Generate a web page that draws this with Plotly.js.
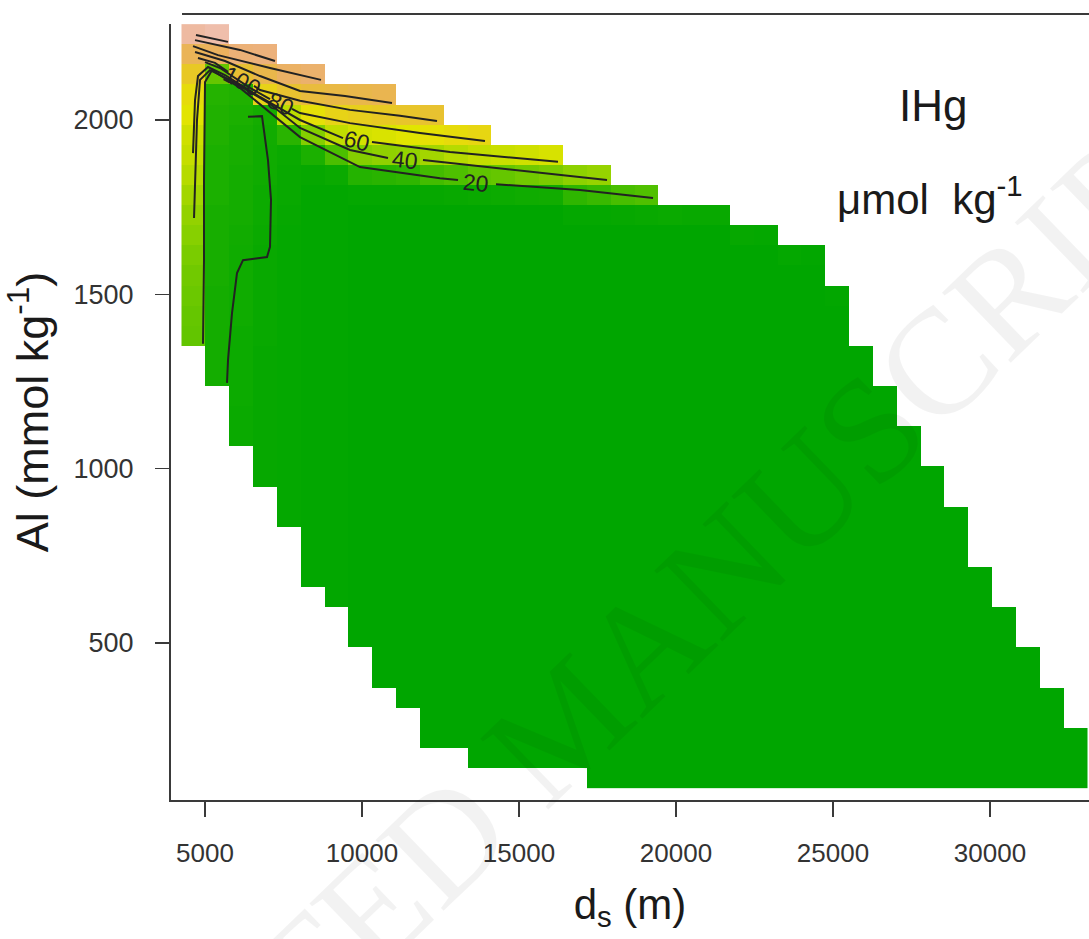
<!DOCTYPE html>
<html>
<head>
<meta charset="utf-8">
<script src="https://cdn.plot.ly/plotly-3.0.1.min.js"></script>
<style>html,body{margin:0;padding:0;background:#fff}#chart{width:1089px;height:939px}</style>
</head>
<body>
<div id="chart"></div>
<script>
// ---- grid (cell centres) ----
const xCenters = [4631,5390,6150,6909,7669,8428,9188,9948,10707,11467,12226,12986,13745,14505,15264,16024,16783,17543,18303,19062,19822,20581,21341,22100,22860,23619,24379,25139,25898,26658,27417,28177,28936,29696,30455,31215,31974,32734];
const yCenters = [112.9,170.6,228.2,285.9,343.5,401.2,458.8,516.5,574.1,631.8,689.4,747.1,804.7,862.4,920.0,977.7,1035.3,1093.0,1150.6,1208.3,1265.9,1323.6,1381.2,1438.9,1496.5,1554.2,1611.8,1669.5,1727.1,1784.8,1842.4,1900.1,1957.7,2015.4,2073.0,2130.7,2188.3,2246.0];

// valid rows in each column (row index into yCenters)
const colBottomRow = [22,20,17,15,13,10,9,7,5,4,2,2,1,1,1,1,1,0,0,0,0,0,0,0,0,0,0,0,0,0,0,0,0,0,0,0,0,0];
const colTopRow    = [37,37,36,36,35,35,34,34,34,33,33,32,32,31,31,31,30,30,29,29,28,28,28,27,27,26,26,24,21,19,17,15,13,10,8,6,4,2];

// IHg values (umol/kg) read from top cell of each column downward
const colTopValues = [
  [182,135,100,84,76,66,61,56,50,45,41,37,34,32,30,29],
  [188,140,30,13,12,12,11,11,11,10,10,10,10,9,9,9,9,9],
  [157,110,12,11,10,10,9,9,9,8,7,7,7,7,6,6,6,6,5,5],
  [160,127,92,9,8,7,7,6,6,5,4,4,4,4,4,3,3,3,3,3,3,3],
  [144,108,58,14,5,4,4,3],
  [150,117,81,40,11,3],
  [123,91,59,21,5],
  [127,95,68,40,13,2],
  [130,99,71,44,14,2],
  [104,75,45,15,2],
  [108,80,50,19,3],
  [84,56,22,4],
  [88,60,28,5],
  [63,30,6],
  [66,34,7],
  [70,37,8],
  [43,15,2],
  [46,17,2],
  [20,3],
  [23,4],
  [5],[4],[4],[3],[2],[2],[1],[1],
  [],[],[],[],[],[],[],[],[],[]
];
const colBaseValue = [29,9,5,3,2,1,1,0,0,0,0,0,0,0,0,0,0,0,0,0,0,0,0,0,0,0,0,0,0,0,0,0,0,0,0,0,0,0];

// contour lines (d_s, Al)
const c180x = [4713,5732];
const c180y = [2244,2224];
const c160x = [4682,6115,7229];
const c160y = [2229,2201,2169];
const c140x = [4618,5414,7070,8694];
const c140y = [2212,2186,2149,2115];
const c120x = [4682,5637,6752,8026,9459,10955];
const c120y = [2195,2169,2126,2083,2069,2049];
const c100x = [4777,5318,5732,null,6560,6752,8026,9618,11210,12389];
const c100y = [2178,2164,2138,null,2098,2086,2055,2029,2012,1997];
const c80x = [5000,5478,6433,7070,null,7771,8026,9618,11847,13917];
const c80y = [2166,2149,2092,2060,null,2032,2020,1991,1963,1940];
const c60x = [4618,4650,4682,4777,5096,5637,6752,8026,9395,null,10318,12803,16242];
const c60y = [1905,2000,2057,2126,2152,2129,2066,2000,1948,null,1937,1908,1880];
const c40x = [4650,4713,4745,4841,5159,5796,7070,8026,9618,10828,null,11943,14395,17803];
const c40y = [1719,1885,2000,2115,2143,2115,2046,1977,1914,1891,null,1885,1862,1828];
const c20x = [4936,4968,4968,5000,5223,6115,8026,9936,12484,13058,null,14267,16943,19268];
const c20y = [1358,1598,1828,2109,2143,2092,1951,1865,1833,1828,null,1816,1799,1776];
const cInnerX = [6369,6815,7006,7102,7070,6975,6210,6019,5860,5733,5701];
const cInnerY = [2009,2011,1885,1771,1636,1607,1598,1561,1446,1312,1246];

const contourLabels = ['100','80','60','40','20'];
const labelX = [6169,7420,9841,11369,13630];
const labelY = [2112,2046,1940,1885,1819];
const labelAngle = [28,24,14,6,5];

const xTickVals = [5000,10000,15000,20000,25000,30000];
const xTickText = ['5000','10000','15000','20000','25000','30000'];
const yTickVals = [500,1000,1500,2000];
const yTickText = ['500','1000','1500','2000'];

// ---- build z matrix ----
const z = yCenters.map((_, j) => xCenters.map((__, i) => {
  if (j < colBottomRow[i] || j > colTopRow[i]) return null;
  const k = colTopRow[i] - j;
  const prof = colTopValues[i];
  return k < prof.length ? prof[k] : colBaseValue[i];
}));

// ---- terrain.colors style scale ----
function hsv2rgb(h, s, v) {
  const i = Math.floor(h * 6), f = h * 6 - i;
  const p = v * (1 - s), q = v * (1 - f * s), t = v * (1 - (1 - f) * s);
  let r, g, b;
  switch (((i % 6) + 6) % 6) {
    case 0: r = v; g = t; b = p; break;
    case 1: r = q; g = v; b = p; break;
    case 2: r = p; g = v; b = t; break;
    case 3: r = p; g = q; b = v; break;
    case 4: r = t; g = p; b = v; break;
    default: r = v; g = p; b = q;
  }
  return 'rgb(' + Math.round(r * 255) + ',' + Math.round(g * 255) + ',' + Math.round(b * 255) + ')';
}
function terrain(f) {
  if (f <= 0.5) { const u = f / 0.5; return hsv2rgb(4/12 - 2/12 * u, 1, 0.65 + 0.25 * u); }
  const t = (f - 0.5) / 0.5; return hsv2rgb(2/12 * (1 - t), 1 - t, 0.9 + 0.05 * t);
}
const zMax = 200;
const valueKnots = [0,5,10,20,40,60,80,100,120,140,160,180,200];
const fracKnots  = [0,0.03,0.065,0.19,0.32,0.44,0.51,0.58,0.64,0.7,0.76,0.83,0.9];
const colorscale = [];
for (let k = 0; k < valueKnots.length - 1; k++) {
  for (let s = 0; s < 4; s++) {
    const a = s / 4;
    const v = valueKnots[k] + a * (valueKnots[k+1] - valueKnots[k]);
    const f = fracKnots[k] + a * (fracKnots[k+1] - fracKnots[k]);
    colorscale.push([v / zMax, terrain(f)]);
  }
}
colorscale.push([1, terrain(fracKnots[fracKnots.length - 1])]);

const lineStyle = {color: '#222222', width: 2};
function cline(x, y) {
  return {type: 'scatter', mode: 'lines', x: x, y: y, line: lineStyle, connectgaps: false, hoverinfo: 'skip', showlegend: false};
}

const traces = [
  {type: 'heatmap', x: xCenters, y: yCenters, z: z, zmin: 0, zmax: zMax, colorscale: colorscale,
   showscale: false, zsmooth: false, hoverongaps: false},
  cline(c180x, c180y), cline(c160x, c160y), cline(c140x, c140y), cline(c120x, c120y),
  cline(c100x, c100y), cline(c80x, c80y), cline(c60x, c60y), cline(c40x, c40y),
  cline(c20x, c20y), cline(cInnerX, cInnerY)
];

const font = 'Liberation Sans, Arial, sans-serif';
const annotations = [];
annotations.push({text: 'ACCEPTED MANUSCRIPT', xref: 'paper', yref: 'paper', x: 0.43, y: 0.10,
  xanchor: 'center', yanchor: 'middle', showarrow: false, textangle: -44,
  font: {family: 'Liberation Serif, Times New Roman, serif', size: 150, color: 'rgba(0,0,0,0.05)'}});
contourLabels.forEach((t, i) => annotations.push({
  text: t, x: labelX[i], y: labelY[i], xref: 'x', yref: 'y', showarrow: false,
  xanchor: 'center', yanchor: 'middle',
  textangle: labelAngle[i], font: {family: font, size: 23, color: '#222222'}
}));
annotations.push({text: 'IHg', xref: 'paper', yref: 'paper', x: 0.830, y: 0.8956, showarrow: false,
  xanchor: 'center', yanchor: 'middle',
  font: {family: font, size: 44, color: '#1a1a1a'}});
annotations.push({text: 'μmol&nbsp; kg<sup>-1</sup>', xref: 'paper', yref: 'paper', x: 0.827, y: 0.778, showarrow: false,
  xanchor: 'center', yanchor: 'middle',
  font: {family: font, size: 42, color: '#1a1a1a'}});

const layout = {
  width: 1089, height: 939,
  margin: {l: 171, r: 0, t: 24, b: 139},
  paper_bgcolor: '#ffffff', plot_bgcolor: '#ffffff',
  showlegend: false,
  xaxis: {
    range: [3917, 33153], showgrid: false, zeroline: false,
    showline: true, linecolor: '#3a3a3a', linewidth: 2,
    ticks: 'outside', ticklen: 15, tickwidth: 1.5, tickcolor: '#3a3a3a',
    tickvals: xTickVals, ticktext: xTickText, ticklabelstandoff: 14,
    tickfont: {family: font, size: 26, color: '#333'},
    title: {text: 'd<sub>s</sub> (m)', font: {family: font, size: 42, color: '#1a1a1a'}, standoff: 22}
  },
  yaxis: {
    range: [49.7, 2275.3], showgrid: false, zeroline: false,
    showline: true, linecolor: '#3a3a3a', linewidth: 2,
    ticks: 'outside', ticklen: 14, tickwidth: 1.5, tickcolor: '#3a3a3a',
    tickvals: yTickVals, ticktext: yTickText, ticklabelstandoff: 16,
    tickfont: {family: font, size: 27, color: '#333'},
    title: {text: 'Al (mmol kg<sup>-1</sup>)', font: {family: font, size: 45, color: '#1a1a1a'}, standoff: 12}
  },
  shapes: [{type: 'line', xref: 'paper', yref: 'paper', x0: 0.012, x1: 1, y0: 1.0129, y1: 1.0129,
    line: {color: '#3a3a3a', width: 2}}],
  annotations: annotations
};

Plotly.newPlot('chart', traces, layout, {displayModeBar: false, staticPlot: true});
</script>
</body>
</html>
